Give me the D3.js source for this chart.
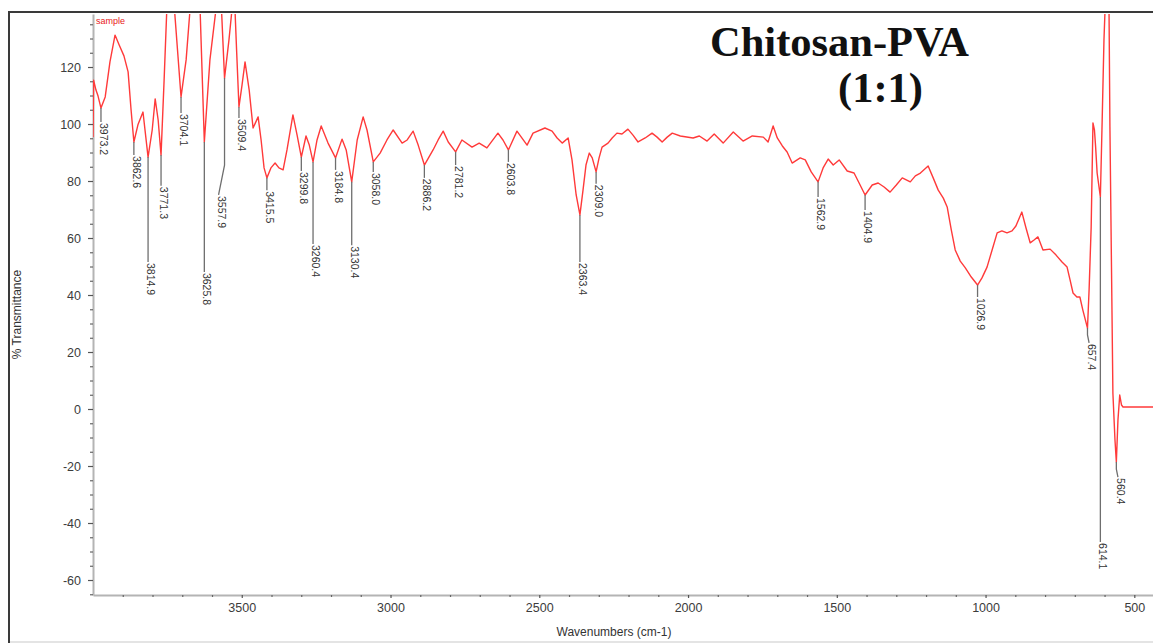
<!DOCTYPE html>
<html>
<head>
<meta charset="utf-8">
<script src="https://cdn.jsdelivr.net/npm/d3@7"></script>
<style>
  body { margin: 0; background: #fff; }
  svg { display: block; }
</style>
</head>
<body>
<svg id="chart" width="1153" height="643"></svg>
<script>
// FTIR spectrum of the chitosan-PVA (1:1) film: wavenumber (cm-1) vs % transmittance
const wavenumber = [
  4000, 3998, 3990, 3983, 3973.2, 3959, 3943, 3926, 3912, 3896,
  3882, 3872, 3862.6, 3849, 3832, 3814.9, 3801, 3791, 3781, 3771.3,
  3761, 3752, 3740, 3726, 3704.1, 3687, 3674, 3657, 3640, 3625.8,
  3607, 3587, 3577, 3568, 3557.9, 3543, 3533, 3525, 3517, 3509.4,
  3499, 3489, 3475, 3462, 3445, 3435, 3425, 3415.5, 3402, 3388,
  3375, 3361, 3348, 3328, 3314, 3299.8, 3284, 3273, 3260.4, 3247,
  3233, 3210, 3184.8, 3163, 3149, 3130.4, 3112, 3092, 3079, 3058.0,
  3035, 3012, 2991, 2961, 2944, 2924, 2907, 2886.2, 2857, 2840,
  2823, 2806, 2781.2, 2760, 2726, 2702, 2676, 2639, 2622, 2603.8,
  2575, 2541, 2521, 2481, 2457, 2440, 2423, 2403, 2390, 2376,
  2363.4, 2353, 2343, 2332, 2322, 2309.0, 2299, 2289, 2269, 2255,
  2239, 2222, 2202, 2185, 2168, 2144, 2121, 2104, 2087, 2070,
  2053, 2026, 1983, 1962, 1936, 1912, 1882, 1848, 1815, 1784,
  1747, 1731, 1714, 1700, 1683, 1667, 1650, 1623, 1606, 1586,
  1562.9, 1546, 1529, 1512, 1492, 1465, 1442, 1425, 1404.9, 1381,
  1361, 1341, 1321, 1300, 1280, 1253, 1236, 1219, 1193, 1176,
  1159, 1142, 1129, 1115, 1102, 1085, 1068, 1048, 1026.9, 1012,
  995, 978, 961, 945, 928, 911, 898, 878, 864, 850,
  837, 824, 807, 783, 763, 743, 726, 716, 706, 693,
  683, 673, 657.4, 652, 645, 639, 634, 630, 625, 614.1,
  608, 602, 595, 585, 582, 577, 572, 565, 560.4, 555,
  549, 543, 538, 400
];
const transmittance = [
  95.4, 115.4, 111.9, 109.8, 105.6, 109.5, 121.8, 131.2, 127.7, 123.9,
  118.3, 104.9, 93.7, 99.7, 104.2, 88.4, 97.9, 108.8, 101.4, 89.1,
  115.4, 140, 152, 140, 109.5, 122.5, 140, 152, 140, 93.7,
  122.5, 140, 150, 140, 116.1, 129.5, 140, 146, 125, 106,
  113.7, 121.8, 111.9, 98.6, 102.5, 94.4, 84.6, 81.1, 84.6, 86.3,
  84.6, 83.9, 90.9, 103.2, 96.1, 88.4, 95.8, 92.6, 86.7, 94.4,
  99.3, 93.3, 88.1, 94.7, 90.9, 79.7, 94.4, 102.5, 97.9, 86.7,
  89.8, 94.4, 97.9, 93.3, 94.4, 97.5, 92.6, 85.6, 90.9, 94.4,
  97.5, 93.7, 90.2, 94.4, 91.9, 93.3, 91.6, 96.8, 94.4, 90.9,
  97.5, 92.6, 96.8, 98.6, 97.5, 95.1, 93.3, 95.1, 87.4, 75.1,
  68.1, 76.8, 85.6, 89.8, 88.1, 83.2, 88.1, 91.9, 93.3, 95.1,
  96.8, 96.5, 98.2, 96.1, 93.7, 95.1, 96.8, 95.4, 93.7, 95.4,
  96.8, 95.8, 95.1, 95.8, 94.0, 96.5, 93.3, 97.2, 94.0, 95.8,
  95.4, 93.7, 99.3, 95.1, 92.3, 90.2, 86.3, 88.1, 87.4, 83.2,
  79.7, 84.6, 87.7, 85.6, 87.4, 83.5, 82.8, 79.3, 75.1, 78.6,
  79.3, 77.9, 76.1, 78.6, 81.1, 79.7, 81.8, 82.8, 85.3, 81.1,
  76.8, 74.0, 70.9, 62.8, 55.8, 51.9, 49.5, 46.3, 43.5, 46.0,
  49.8, 55.8, 61.8, 62.5, 61.8, 62.5, 64.2, 69.1, 63.5, 58.3,
  59.3, 60.4, 55.8, 56.1, 54.0, 51.6, 49.8, 45.3, 40.7, 39.3,
  39.3, 34.7, 28.4, 41.8, 63.9, 100.4, 97.9, 91.9, 82.8, 74.4,
  101.4, 129.5, 150, 140, 99, 52.3, 5.6, -10.9, -18.6, -3.9,
  4.9, 1.4, 0.7, 0.7
];

// Picked absorption bands, the level (% T) where each label starts,
// and the wavenumber the label text is shifted to
const peakPositions = [
  3973.2, 3862.6, 3814.9, 3771.3, 3704.1, 3625.8, 3557.9, 3509.4, 3415.5, 3299.8,
  3260.4, 3184.8, 3130.4, 3058.0, 2886.2, 2781.2, 2603.8, 2363.4, 2309.0, 1562.9,
  1404.9, 1026.9, 657.4, 614.1, 560.4
];
const peakLabelLevels = [
  100.7, 89.1, 51.6, 78.3, 103.9, 48.1, 75.1, 102.1, 76.8, 83.5,
  57.9, 83.9, 57.5, 83.2, 81.1, 85.6, 86.7, 51.6, 79.0, 74.4,
  69.8, 39.3, 23.2, -46.7, -23.9
];
const peakLabelPositions = [
  3973.2, 3862.6, 3814.9, 3771.3, 3704.1, 3625.8, 3578, 3509.4, 3415.5, 3299.8,
  3260.4, 3184.8, 3130.4, 3058.0, 2886.2, 2781.2, 2603.8, 2363.4, 2309.0, 1562.9,
  1404.9, 1026.9, 652, 614.1, 555
];

const yTickValues = [-60, -40, -20, 0, 20, 40, 60, 80, 100, 120];
const xTickValues = [3500, 3000, 2500, 2000, 1500, 1000, 500];

const titleLines = ["Chitosan-PVA", "(1:1)"];
const seriesName = "sample";
const xTitle = "Wavenumbers (cm-1)";
const yTitle = "% Transmittance";

const svg = d3.select("#chart");
const plot = { left: 93, right: 1153, top: 14, bottom: 595 };

const x = d3.scaleLinear().domain([4000, 437.2]).range([plot.left, plot.right]);
const y = d3.scaleLinear().domain([-65.26, 138.6]).range([plot.bottom, plot.top]);

const tickFont = "'Liberation Sans', Arial, sans-serif";
const plain = d => String(d);

// outer window frame
svg.append("line").attr("x1", 9).attr("x2", 9).attr("y1", 12).attr("y2", 643)
  .attr("stroke", "#3a3a3a").attr("stroke-width", 2);
svg.append("line").attr("x1", 8).attr("x2", 1153).attr("y1", 12).attr("y2", 12)
  .attr("stroke", "#3a3a3a").attr("stroke-width", 2);
svg.append("line").attr("x1", 10).attr("x2", 1153).attr("y1", 642).attr("y2", 642)
  .attr("stroke", "#e4e4e4").attr("stroke-width", 2);

// minor ticks
const yMinor = d3.range(-65, 139, 5).filter(v => v % 20 !== 0);
const xMinor = d3.range(500, 4001, 100).filter(v => v % 500 !== 0 && v >= 437.2);

function styleAxis(g) {
  g.select(".domain").attr("stroke", "#b4b4b4").attr("stroke-width", 2);
  g.selectAll(".tick line").attr("stroke", "#555").attr("stroke-width", 1.2);
  g.selectAll(".tick text").attr("fill", "#3c3c3c")
    .style("font-family", tickFont).style("font-size", "12.5px");
}

const yAxisG = svg.append("g").attr("transform", `translate(${plot.left},0)`)
  .call(d3.axisLeft(y).tickValues(yTickValues).tickFormat(plain)
    .tickSize(5).tickSizeOuter(0).tickPadding(7));
styleAxis(yAxisG);
svg.append("g").attr("transform", `translate(${plot.left},0)`)
  .call(d3.axisLeft(y).tickValues(yMinor).tickSize(3).tickSizeOuter(0).tickFormat(""))
  .call(g => g.select(".domain").remove())
  .call(g => g.selectAll(".tick line").attr("stroke", "#666").attr("stroke-width", 1.2));

const xAxisG = svg.append("g").attr("transform", `translate(0,${plot.bottom})`)
  .call(d3.axisBottom(x).tickValues(xTickValues).tickFormat(plain)
    .tickSize(3).tickSizeOuter(0).tickPadding(5));
styleAxis(xAxisG);
svg.append("g").attr("transform", `translate(0,${plot.bottom})`)
  .call(d3.axisBottom(x).tickValues(xMinor).tickSize(2).tickSizeOuter(0).tickFormat(""))
  .call(g => g.select(".domain").remove())
  .call(g => g.selectAll(".tick line").attr("stroke", "#666").attr("stroke-width", 1.2));

// axis titles
svg.append("text")
  .attr("transform", `translate(21,${(plot.top + plot.bottom) / 2 + 10}) rotate(-90)`)
  .attr("text-anchor", "middle")
  .style("font-family", tickFont).style("font-size", "12px").attr("fill", "#333")
  .text(yTitle);
svg.append("text")
  .attr("x", 614).attr("y", 636).attr("text-anchor", "middle")
  .style("font-family", tickFont).style("font-size", "12px").attr("fill", "#333")
  .text(xTitle);

// spectrum trace, clipped to the plot frame
svg.append("clipPath").attr("id", "plot-clip").append("rect")
  .attr("x", plot.left).attr("y", plot.top)
  .attr("width", plot.right - plot.left).attr("height", plot.bottom - plot.top);

const points = wavenumber.map((w, i) => [w, transmittance[i]]);
const line = d3.line().x(d => x(d[0])).y(d => y(d[1]));
svg.append("path")
  .datum(points)
  .attr("clip-path", "url(#plot-clip)")
  .attr("fill", "none")
  .attr("stroke", "#ff3a3a")
  .attr("stroke-width", 1.4)
  .attr("stroke-linejoin", "round")
  .attr("d", line);

// transmittance on the trace at any wavenumber
function traceAt(w) {
  for (let i = 0; i < wavenumber.length - 1; i++) {
    const a = wavenumber[i], b = wavenumber[i + 1];
    if (w <= a && w >= b) {
      const t = (a - w) / (a - b);
      return transmittance[i] + t * (transmittance[i + 1] - transmittance[i]);
    }
  }
  return transmittance[transmittance.length - 1];
}

// peak markers: leader from the band minimum down to its rotated label
const peaks = peakPositions.map((w, i) => ({
  w, level: peakLabelLevels[i], at: peakLabelPositions[i], text: w.toFixed(1)
}));
const peakG = svg.append("g");
peakG.selectAll("path").data(peaks).join("path")
  .attr("fill", "none").attr("stroke", "#6e6e6e").attr("stroke-width", 1.3)
  .attr("d", d => {
    const px = x(d.w), lx = x(d.at), ly = y(d.level);
    const bend = Math.max(0, Math.abs(lx - px) * 5);
    return `M${px},${y(traceAt(d.w))}V${ly - bend}L${lx},${ly}`;
  });
peakG.selectAll("text").data(peaks).join("text")
  .attr("transform", d => `translate(${x(d.at) + 3},${y(d.level) + 1}) rotate(90)`)
  .attr("text-anchor", "start").attr("dominant-baseline", "central")
  .style("font-family", tickFont).style("font-size", "10.5px").attr("fill", "#333")
  .text(d => d.text);

// series tag
svg.append("text").attr("x", 96).attr("y", 24)
  .style("font-family", tickFont).style("font-size", "9px").attr("fill", "#e82020")
  .text(seriesName);

// title
const titleG = svg.append("g")
  .style("font-family", "'Liberation Serif', 'Times New Roman', serif")
  .style("font-weight", "bold").style("font-size", "42.5px").attr("fill", "#111");
titleG.append("text").attr("x", 710).attr("y", 56).text(titleLines[0]);
titleG.append("text").attr("x", 838).attr("y", 102).text(titleLines[1]);
</script>
</body>
</html>
